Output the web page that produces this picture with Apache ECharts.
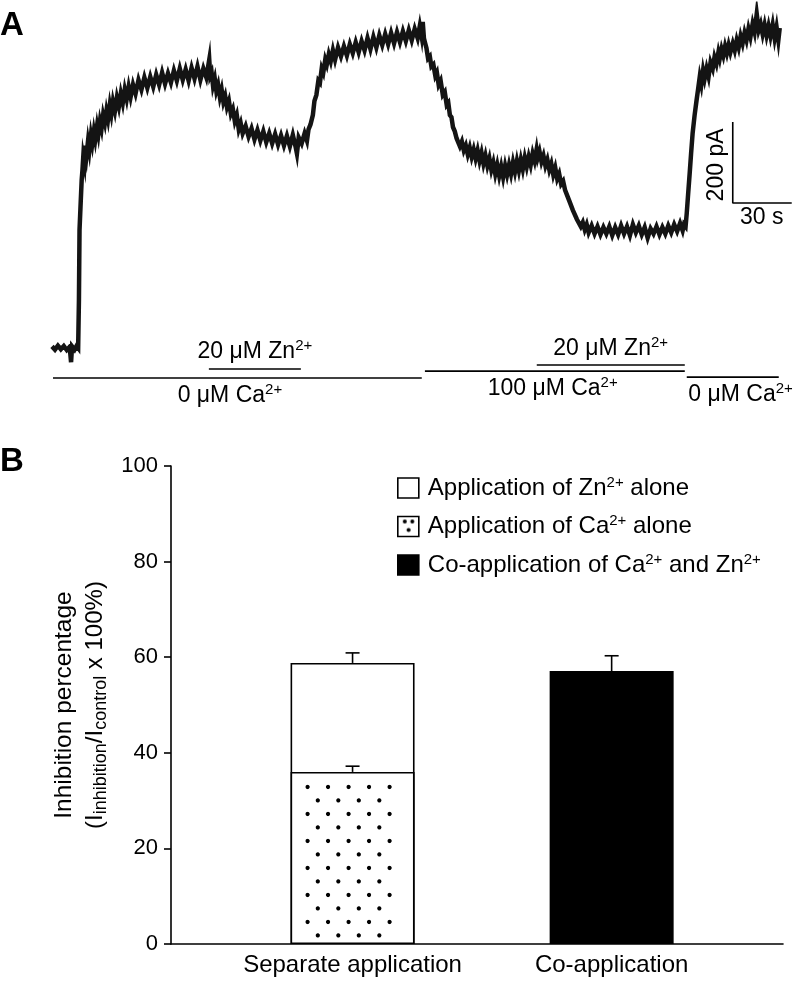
<!DOCTYPE html>
<html><head><meta charset="utf-8">
<script src="https://cdn.jsdelivr.net/npm/echarts@6/dist/echarts.min.js"></script>
<style>html,body{margin:0;padding:0;background:#fff}#c{width:799px;height:984px}</style>
</head><body><div id="c"></div>
<script>
// ---------- Panel A: whole-cell current trace (time in s, current in pA above baseline) ----------
const traceSamples = [
[0,4],[1.5,-4],[3,6],[4.5,-3],[6,5],[7.5,-5],[9,3],[9.7,-35],[10.2,4],[11.5,-4],[12.5,5],[13.3,0],
[13.7,118],[14.0,291],[14.6,360],[15.1,415],[15.5,440],[15.9,472],[16.5,455],[17,500],[17.6,478],[18.3,510],[19,488],[19.8,525],[20.5,505],[21.3,535],[22,515],[22.9,548],[23.6,528],[24.4,560],[25.2,542],[26,575],[26.9,556],[27.7,585],[28.5,565],[29.4,600],[30.2,578],[31,608],[32,585],[33,618],[34,596],[35,628],[36,605],[37,638],[38,615],[39,645],[40,620],[41.2,650],[42.5,628],[44,662],[45.5,638],[47,668],[48.5,642],[50,670],[51.5,645],[53,675],[54.5,650],[56,680],[57.5,652],[59,678],[60.5,655],[62,685],[63.5,660],[65,690],[66.5,662],[68,688],[69.5,660],[71,692],[72.5,665],[74,695],[75.5,662],[77,690],[78.5,668],[80,712],[80.5,672],[81.2,680],[81.9,648],[82.8,665],[83.6,635],[84.5,650],[85.4,620],[86.3,638],[87.2,608],[88.1,622],[89,595],[90,610],[91,578],[92,590],[93,560],[94,575],[95,540],[96,555],[97,530],[98.5,548],[100,522],[101.5,542],[103,515],[104.5,538],[106,512],[107.5,535],[109,508],[110.5,530],[112,505],[113.5,528],[115,502],[116.5,525],[118,500],[119.5,524],[121,498],[122.5,526],[124,495],[124.6,480],[125.5,520],[127,505],[128.5,530],[129.7,512],[130.5,540],[131.5,552],[132.7,575],[133.5,610],[134.5,625],[135.5,660],[136.3,655],[137.2,690],[138,680],[139,712],[139.8,700],[140.8,725],[141.8,708],[142.9,735],[144,712],[145.5,742],[147,720],[148.5,745],[150,722],[151.5,750],[153,728],[154.5,755],[156,730],[157.5,758],[159,735],[160.5,765],[162,738],[163.5,768],[165,742],[166.5,772],[168,748],[169.5,775],[171,750],[172.5,778],[174,752],[175.5,780],[177,755],[178.5,782],[180,758],[181.5,785],[183,760],[184.5,788],[186,765],[187.1,795],[188,770],[188.6,805],[189.2,765],[189.7,755],[190.5,740],[191.3,715],[192.2,720],[193,695],[194,700],[195,672],[195.8,680],[196.7,650],[197.7,660],[198.8,625],[199.8,632],[200.8,600],[201.6,605],[202.4,575],[203.2,570],[204,545],[204.9,535],[205.8,518],[206.7,522],[207.5,498],[208.5,510],[209.5,488],[210.5,500],[211.5,478],[212.5,495],[213.5,472],[214.5,490],[215.5,468],[216.5,488],[217.5,462],[218.5,482],[219.5,455],[220.5,475],[221.5,450],[222.5,468],[223.5,440],[224.5,458],[225.5,430],[226.5,452],[227.5,425],[228.5,448],[229.5,422],[230.5,450],[231.5,428],[232.5,452],[233.5,430],[234.5,458],[235.5,435],[236.5,462],[237.5,438],[238.5,465],[239.5,442],[240.5,470],[241.5,448],[242.5,472],[243.5,452],[244.5,480],[245.5,462],[246.5,490],[247.1,470],[248,485],[249,460],[250,475],[251,450],[252,465],[253,440],[254,455],[255,428],[256,445],[257,418],[258,430],[259,405],[260,412],[261,390],[262,392],[263,365],[264,365],[265,340],[266,338],[267,318],[268,320],[269,300],[270,310],[271,292],[272,305],[273,285],[274.5,302],[276,282],[277.5,300],[279,280],[280.5,298],[282,282],[283.5,300],[285,278],[286.5,298],[288,280],[289.5,302],[291,282],[292.5,300],[294,278],[295.5,305],[297,285],[298.5,302],[300,280],[301.5,298],[303,272],[304.5,295],[306,282],[307.5,300],[309,280],[310.5,298],[312,282],[313.5,302],[315,285],[316.5,305],[318,288],[319.5,308],[320.8,290],[321.5,305],[322.3,300],[322.9,333],[323.6,380],[324.4,432],[325.1,480],[325.9,531],[326.9,575],[327.9,612],[328.7,640],[329.5,669],[330.3,650],[331.2,685],[332,665],[333,690],[334,670],[335,705],[336.1,690],[337,718],[338,702],[339,730],[339.7,715],[340.6,738],[341.5,722],[342.4,745],[343.3,728],[344.2,748],[345.1,730],[346.3,752],[347.3,735],[348.3,760],[349.3,742],[350.3,770],[351.3,752],[352.3,778],[353.3,760],[354.3,788],[355.3,768],[356.4,800],[357.4,780],[358.5,825],[359.5,785],[360.5,800],[361.5,775],[362.5,798],[363.5,772],[364.5,795],[365.5,770],[366.6,798],[367.6,765],[368.6,792],[369.5,760],[370.2,790]
];
// solution application periods (s) and the level (pA, below baseline) where each bar is drawn
const caStart = [0.5, 189.7, 322.9];
const caEnd   = [188.1, 321.9, 369.7];
const caLevel = [-74, -57, -72];
const znStart = [79.8, 246.6];
const znEnd   = [126.6, 321.9];
const znLevel = [-52, -42];
// text annotations of panel A
const aLabelText    = ['20 μM Zn{sup|2+}', '0 μM Ca{sup|2+}', '100 μM Ca{sup|2+}', '20 μM Zn{sup|2+}', '0 μM Ca{sup|2+}', '200 pA', '30 s'];
const aLabelTime    = [103.2, 90.5, 254.7, 284.2, 350.3, 338.1, 361];
const aLabelCurrent = [-9.9, -118.5, -101, -2.5, -116, 452, 321];
const aLabelRotate  = [0, 0, 0, 0, 0, 90, 0];
// scale bar
const scaleBarTime = 346.3, scaleBarCurrent = 358, scaleAmp = 200, scaleDur = 30;

// ---------- Panel B: inhibition percentage ----------
const bCategories = ['Separate application', 'Co-application'];
const bPositions  = [1.78, 4.32];
const caAloneVal = 36.0, caAloneErr = 1.2;
const znAloneVal = 22.8, znAloneErr = 2.1;
const coAppVal   = 57.1, coAppErr   = 3.2;
const legendNames = ['Application of Zn2+ alone', 'Application of Ca2+ alone', 'Co-application of Ca2+ and Zn2+'];

const FONT = 'Liberation Sans, Arial, Helvetica, sans-serif';
const BAR_W = 124;

// dot tile for the Ca bar
const dotTile = document.createElement('canvas');
dotTile.width = 41; dotTile.height = 54;
(function(){ const g = dotTile.getContext('2d'); g.fillStyle='#000';
  [[8,8],[28.5,35]].forEach(p=>{g.beginPath(); g.arc(p[0],p[1],4.2,0,Math.PI*2); g.fill();}); })();
// legend icon with three dots
const legendDots = document.createElement('canvas');
legendDots.width = 21; legendDots.height = 20;
(function(){ const g = legendDots.getContext('2d'); g.fillStyle='#fff'; g.fillRect(0,0,21,20); g.fillStyle='#000';
  [[7,5],[14.5,5],[10.8,13.5]].forEach(p=>{g.beginPath(); g.arc(p[0],p[1],2,0,Math.PI*2); g.fill();}); })();

const chart = echarts.init(document.getElementById('c'), null, {renderer:'canvas'});

const supRich = {
  sup: {fontSize: 15, lineHeight: 15, verticalAlign: 'top', fontFamily: FONT, color: '#000', textBorderWidth: 0},
};

const seriesA = [];
seriesA.push({type:'line', name:'trace', xAxisIndex:0, yAxisIndex:0, data: traceSamples, showSymbol:false, symbol:'none',
  lineStyle:{color:'#141414', width:4.5, join:'miter'}, silent:true, animation:false});
caStart.forEach((s,i)=>seriesA.push({type:'line', xAxisIndex:0, yAxisIndex:0, symbol:'none', silent:true, animation:false,
  data:[[s, caLevel[i]],[caEnd[i], caLevel[i]]], lineStyle:{color:'#000', width:1.6}}));
znStart.forEach((s,i)=>seriesA.push({type:'line', xAxisIndex:0, yAxisIndex:0, symbol:'none', silent:true, animation:false,
  data:[[s, znLevel[i]],[znEnd[i], znLevel[i]]], lineStyle:{color:'#000', width:1.6}}));
seriesA.push({type:'line', xAxisIndex:0, yAxisIndex:0, symbol:'none', silent:true, animation:false, clip:false,
  data:[[scaleBarTime, scaleBarCurrent+scaleAmp],[scaleBarTime, scaleBarCurrent],[scaleBarTime+scaleDur, scaleBarCurrent]],
  lineStyle:{color:'#000', width:1.6}});
seriesA.push({type:'scatter', xAxisIndex:0, yAxisIndex:0, symbolSize:1, itemStyle:{color:'rgba(0,0,0,0)'}, silent:true, animation:false, clip:false,
  data: aLabelText.map((t,i)=>({value:[aLabelTime[i], aLabelCurrent[i]], label:{formatter:t, rotate:aLabelRotate[i]}})),
  label:{show:true, position:'inside', fontSize:23, lineHeight:27, fontFamily:FONT, color:'#000', opacity:1,
    textBorderWidth:0, textBorderColor:'transparent', rich:supRich},
  labelLayout:{hideOverlap:false}});

const seriesB = [
  // Zn alone drawn as the full separate-application column (Ca alone + Zn alone), Ca alone drawn over its lower part
  {type:'bar', name: legendNames[0], xAxisIndex:1, yAxisIndex:1, barWidth:BAR_W, barGap:'-100%', animation:false, silent:true,
   data:[[bPositions[0], caAloneVal + znAloneVal]], itemStyle:{color:'#fff', borderColor:'#000', borderWidth:1.6}},
  {type:'bar', name: legendNames[1], xAxisIndex:1, yAxisIndex:1, barWidth:BAR_W, barGap:'-100%', animation:false, silent:true,
   data:[[bPositions[0], caAloneVal]], itemStyle:{color:'#fff', borderColor:'#000', borderWidth:1.6}},
  {type:'bar', name: legendNames[2], xAxisIndex:1, yAxisIndex:1, barWidth:BAR_W, barGap:'-100%', animation:false, silent:true,
   data:[[bPositions[1], coAppVal]], itemStyle:{color:'#000', borderColor:'#000', borderWidth:1.6}},
  {type:'custom', xAxisIndex:1, yAxisIndex:1, animation:false, silent:true, z:3,
   data:[[bPositions[0], caAloneVal]],
   renderItem:(params, api)=>{
     const pos = api.value(0), val = api.value(1);
     const top = api.coord([pos, val]), bot = api.coord([pos, 0]);
     const left = top[0] - BAR_W/2;
     return {type:'rect', shape:{x:left+12, y:top[1]+9, width:BAR_W-31, height:bot[1]-top[1]-13},
       style:{fill:{image:dotTile, repeat:'repeat', x:left+13, y:top[1]+11, scaleX:0.5, scaleY:0.5}}};
   }},
  {type:'custom', xAxisIndex:1, yAxisIndex:1, animation:false, silent:true, z:4,
   data:[[bPositions[0], caAloneVal, caAloneErr],[bPositions[0], caAloneVal+znAloneVal, znAloneErr],[bPositions[1], coAppVal, coAppErr]],
   renderItem:(params, api)=>{
     const x = api.value(0), y = api.value(1), e = api.value(2);
     const p0 = api.coord([x, y]), p1 = api.coord([x, y+e]);
     const st = {stroke:'#000', lineWidth:1.6};
     return {type:'group', children:[
       {type:'line', shape:{x1:p0[0], y1:p0[1], x2:p1[0], y2:p1[1]}, style:st},
       {type:'line', shape:{x1:p1[0]-7, y1:p1[1], x2:p1[0]+7, y2:p1[1]}, style:st}
     ]};
   }}
];

chart.setOption({
  animation:false,
  backgroundColor:'#fff',
  textStyle:{fontFamily:FONT},
  grid:[
    {left:52, top:3.75, width:380*1.9667, height:405},
    {left:171, top:466, width:612, height:478}
  ],
  xAxis:[
    {type:'value', gridIndex:0, min:0, max:380, show:false},
    {type:'value', gridIndex:1, min:0, max:6, splitLine:{show:false},
     axisLine:{show:true, onZero:false, lineStyle:{color:'#000', width:1.6}}, axisTick:{show:false},
     axisLabel:{customValues:bPositions, formatter:(v)=>{let k=0; bPositions.forEach((p,i)=>{if(Math.abs(p-v)<Math.abs(bPositions[k]-v))k=i;}); return bCategories[k];},
       fontSize:24, color:'#000', margin:9, fontFamily:FONT}}
  ],
  yAxis:[
    {type:'value', gridIndex:0, min:-150, max:850, show:false},
    {type:'value', gridIndex:1, min:0, max:100, interval:20, splitLine:{show:false},
     axisLine:{show:true, onZero:false, lineStyle:{color:'#000', width:1.6}},
     axisTick:{show:true, length:7, lineStyle:{color:'#000', width:1.6}},
     axisLabel:{fontSize:22, color:'#000', margin:13, fontFamily:FONT},
     name:'Inhibition percentage\n{p|(I}{sub|inhibition}{p|/I}{sub|control}{p| x 100%)}',
     nameLocation:'middle', nameRotate:90, nameGap:50,
     nameTextStyle:{fontSize:24.5, lineHeight:31, color:'#000', fontFamily:FONT,
       rich:{p:{fontSize:24, lineHeight:31, color:'#000', fontFamily:FONT},
             sub:{fontSize:18, lineHeight:16, verticalAlign:'bottom', color:'#000', fontFamily:FONT}}}}
  ],
  legend:{
    orient:'vertical', left:397, top:475, padding:0, itemWidth:21, itemHeight:20, itemGap:12.5,
    selectedMode:false, icon:'rect',
    data:[
      {name:legendNames[0], itemStyle:{color:'#fff', borderColor:'#000', borderWidth:1.6}},
      {name:legendNames[1], itemStyle:{color:{image:legendDots, repeat:'no-repeat'}, borderColor:'#000', borderWidth:1.6}},
      {name:legendNames[2], itemStyle:{color:'#000', borderColor:'#000', borderWidth:1.6}}
    ],
    formatter:(n)=>n.replace(/2\+/g, '{sup|2+}'),
    textStyle:{fontSize:24, lineHeight:26, color:'#000', fontFamily:FONT, padding:[0,0,0,4],
      rich:{sup:{fontSize:15, lineHeight:15, verticalAlign:'top', color:'#000', fontFamily:FONT}}}
  },
  graphic:[
    {type:'text', left:0, top:9, style:{text:'A', font:'bold 33px '+FONT, fill:'#000'}},
    {type:'text', left:0, top:445, style:{text:'B', font:'bold 33px '+FONT, fill:'#000'}}
  ],
  series: seriesA.concat(seriesB)
});
</script>
</body></html>
